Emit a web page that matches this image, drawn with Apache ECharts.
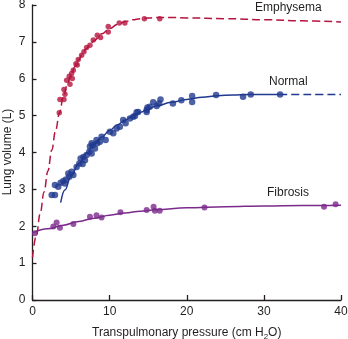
<!DOCTYPE html>
<html>
<head>
<meta charset="utf-8">
<style>
  html, body { margin: 0; padding: 0; background: #fff; }
  #chart { width: 348px; height: 339px; }
</style>
<script src="https://cdn.jsdelivr.net/npm/echarts@6/dist/echarts.min.js"></script>
</head>
<body>
<div id="chart"></div>
<script>
// Pressure–volume curves of the lung: measured points and fitted curves
const xTicks = [0, 10, 20, 30, 40];
const yTicks = [0, 1, 2, 3, 4, 5, 6, 7, 8];

// Emphysema: [pressure cm H2O, volume L]
const emphysemaPoints = [
  [3.47, 5.08], [3.56, 5.44], [4.08, 5.44], [4.21, 5.58], [4.08, 5.71],
  [4.86, 5.85], [4.43, 5.96], [5.16, 6.01], [4.77, 6.07], [5.07, 6.14],
  [5.29, 6.23], [5.80, 6.37], [5.63, 6.41], [5.93, 6.52], [6.37, 6.64],
  [6.67, 6.73], [7.02, 6.85], [7.45, 6.91], [7.88, 7.05], [8.83, 7.12],
  [8.40, 7.18], [9.82, 7.27], [9.82, 7.42], [11.25, 7.51], [11.98, 7.51],
  [14.5, 7.63], [16.5, 7.63]
];
const emphysemaCurve = [
  [0, 1.15], [0.5, 1.75], [1, 2.35], [1.5, 2.93], [2, 3.5], [2.5, 4.07],
  [3, 4.6], [3.5, 5.08], [4, 5.5], [4.5, 5.83], [5, 6.1], [5.5, 6.33],
  [6, 6.52], [6.5, 6.68], [7, 6.82], [7.5, 6.94], [8, 7.04], [9, 7.22],
  [10, 7.36], [11, 7.47], [12, 7.55], [13, 7.6], [14, 7.63], [16, 7.66],
  [18, 7.66], [20, 7.65], [25, 7.63], [30, 7.6], [35, 7.57], [40, 7.54]
];

// Normal lung
const normalPoints = [
  [2.49, 2.85], [2.91, 2.85], [2.91, 3.12], [3.34, 3.07], [3.65, 3.18],
  [4.00, 3.23], [4.34, 3.27], [4.20, 3.16], [4.64, 3.43], [4.77, 3.34],
  [5.07, 3.48], [5.29, 3.39], [5.72, 3.61], [6.07, 3.70], [6.24, 3.84],
  [6.50, 3.69], [6.80, 3.79], [6.60, 3.88], [7.02, 3.93], [7.36, 4.02],
  [7.67, 3.97], [7.80, 4.20], [8.10, 4.11], [8.40, 4.25], [7.45, 4.16],
  [7.67, 4.25], [8.30, 4.34], [8.74, 4.29], [8.96, 4.43], [9.48, 4.34],
  [10.04, 4.56], [10.47, 4.52], [10.90, 4.65], [11.33, 4.70], [11.76, 4.88],
  [12.07, 4.79], [12.63, 4.92], [13.06, 4.97], [13.50, 5.09], [13.28, 4.99],
  [13.70, 5.10], [14.80, 5.10], [14.80, 5.15], [14.90, 5.22], [15.20, 5.24],
  [15.65, 5.36], [16.10, 5.26], [16.40, 5.33], [16.60, 5.44], [18.2, 5.33],
  [19.3, 5.42], [20.7, 5.53], [20.7, 5.37], [23.8, 5.56], [27.3, 5.51],
  [28.3, 5.57], [32.1, 5.57]
];
const normalCurve = [
  [3.65, 2.64], [4.2, 2.98], [5, 3.36], [6, 3.70], [7, 3.98], [8, 4.22],
  [9, 4.42], [10, 4.6], [11, 4.75], [12, 4.88], [13, 4.99], [14, 5.09],
  [15, 5.18], [16, 5.26], [18, 5.36], [20, 5.44], [22, 5.5], [24, 5.54],
  [26, 5.56], [28, 5.57], [30, 5.57], [32, 5.57]
];
const normalExtension = [[32, 5.57], [36, 5.57], [40, 5.57]];

// Fibrosis
const fibrosisPoints = [
  [0.32, 1.81], [2.7, 1.99], [3.13, 2.1], [3.56, 1.96], [5.3, 2.06],
  [7.45, 2.26], [8.3, 2.30], [8.96, 2.24], [11.4, 2.38], [14.8, 2.44],
  [15.7, 2.53], [15.87, 2.42], [16.5, 2.42], [22.3, 2.51], [37.8, 2.53],
  [39.3, 2.60]
];
const fibrosisCurve = [
  [0, 1.82], [2, 1.93], [4, 2.03], [6, 2.13], [8, 2.22], [10, 2.3],
  [12, 2.36], [14, 2.41], [16, 2.45], [20, 2.5], [25, 2.53], [30, 2.55],
  [35, 2.56], [40, 2.57]
];

const RED = '#b5143f';
const BLUE = '#21398f';
const PURPLE = '#7b2a8b';
const INK = '#231f20';
const FONT = '"Liberation Sans", Arial, Helvetica, sans-serif';

const chart = echarts.init(document.getElementById('chart'), null, { renderer: 'canvas' });

function curve(data, color, dashed) {
  return {
    type: 'line', data, showSymbol: false, symbol: 'none', smooth: 0.4,
    smoothMonotone: 'x', silent: true, z: 2,
    lineStyle: { color, width: 1.5, type: dashed ? [8, 4] : 'solid' }
  };
}
function dots(data, color, size) {
  return {
    type: 'scatter', data, symbol: 'circle', symbolSize: size, silent: true, z: 3,
    itemStyle: { color }
  };
}

chart.setOption({
  animation: false,
  textStyle: { fontFamily: FONT },
  grid: { left: 32.5, right: 7, top: 5, bottom: 39, containLabel: false, outerBoundsMode: 'none' },
  xAxis: {
    type: 'value', min: xTicks[0], max: xTicks[xTicks.length - 1], interval: 10,
    name: '{a|Transpulmonary pressure (cm H}{s|2}{a|O)}',
    nameLocation: 'middle', nameGap: 25,
    nameTextStyle: {
      rich: {
        a: { fontSize: 12, color: INK, fontFamily: FONT, lineHeight: 16, verticalAlign: 'middle' },
        s: { fontSize: 8, color: INK, fontFamily: FONT, lineHeight: 16, verticalAlign: 'bottom', padding: [0, 0, 0, 0] }
      }
    },
    axisLine: { lineStyle: { color: INK, width: 1.3 } },
    axisTick: { inside: true, length: 5, lineStyle: { color: INK, width: 1.3 } },
    axisLabel: { color: INK, fontSize: 12, margin: 6, fontFamily: FONT },
    splitLine: { show: false }
  },
  yAxis: {
    type: 'value', min: yTicks[0], max: yTicks[yTicks.length - 1], interval: 1,
    axisLine: { show: true, lineStyle: { color: INK, width: 1.3 } },
    axisTick: { show: true, inside: true, length: 4, lineStyle: { color: INK, width: 1.3 } },
    axisLabel: { color: INK, fontSize: 12, margin: 7, fontFamily: FONT },
    splitLine: { show: false }
  },
  series: [
    curve(fibrosisCurve, PURPLE, false),
    dots(fibrosisPoints, PURPLE, 6),
    curve(normalCurve, BLUE, false),
    curve(normalExtension, BLUE, true),
    dots(normalPoints, BLUE, 6.5),
    curve(emphysemaCurve, RED, true),
    dots(emphysemaPoints, RED, 5.5)
  ],
  graphic: [
    { type: 'text', x: 8, y: 152, rotation: Math.PI / 2, silent: true,
      style: { text: 'Lung volume (L)', fill: INK, font: '12px ' + FONT,
               align: 'center', verticalAlign: 'middle' } },
    { type: 'text', left: 255, top: 2, silent: true,
      style: { text: 'Emphysema', fill: INK, font: '12px ' + FONT } },
    { type: 'text', left: 269, top: 76, silent: true,
      style: { text: 'Normal', fill: INK, font: '12px ' + FONT } },
    { type: 'text', left: 267, top: 187, silent: true,
      style: { text: 'Fibrosis', fill: INK, font: '12px ' + FONT } }
  ]
});
</script>
</body>
</html>
